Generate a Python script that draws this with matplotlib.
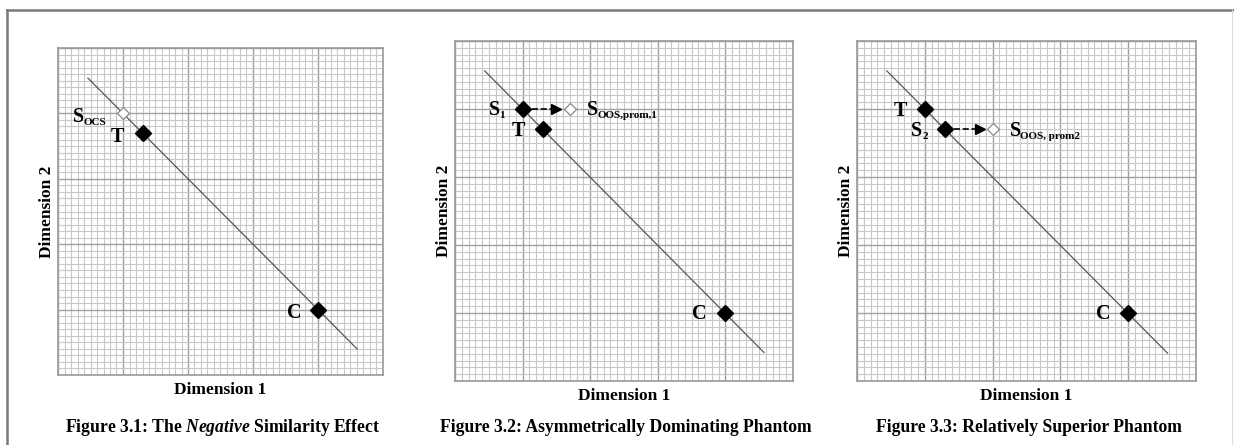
import numpy as np
import matplotlib.pyplot as plt
from matplotlib.lines import Line2D

plt.rcParams['font.family'] = ['Liberation Serif', 'DejaVu Serif']
plt.rcParams['mathtext.fontset'] = 'custom'
plt.rcParams['mathtext.rm'] = 'Liberation Serif:bold'
plt.rcParams['mathtext.it'] = 'Liberation Serif:italic:bold'

W, H = 1234, 445

# --- data (grid units, 0..5 on both axes) ---
line1_x = [0.46, 4.60]
line1_y = [4.54, 0.40]
filled1_x = [1.3, 4.0]
filled1_y = [3.7, 1.0]
hollow1_x = [1.0]
hollow1_y = [4.0]
labels1 = [('T', 0.92, 3.64), ('C', 3.63, 0.95)]
sublabels1 = [('S', 'OCS', 0.23, 3.95)]

line2_x = [0.44, 4.57]
line2_y = [4.56, 0.42]
filled2_x = [1.0, 1.3, 4.0]
filled2_y = [4.0, 3.7, 1.0]
hollow2_x = [1.7]
hollow2_y = [4.0]
arrow2 = (1.0, 1.5, 4.0)
labels2 = [('T', 0.94, 3.68), ('C', 3.62, 0.99)]
sublabels2 = [('S', '1', 0.50, 3.98), ('S', 'OOS,prom,1', 1.95, 3.98)]

line3_x = [0.44, 4.58]
line3_y = [4.56, 0.41]
filled3_x = [1.0, 1.3, 4.0]
filled3_y = [4.0, 3.7, 1.0]
hollow3_x = [2.0]
hollow3_y = [3.7]
arrow3 = (1.3, 1.82, 3.7)
labels3 = [('T', 0.64, 3.97), ('C', 3.63, 0.99)]
sublabels3 = [('S', '2', 0.80, 3.68), ('S', 'OOS, prom2', 2.25, 3.68)]

captions = ['Figure 3.1: The $\\mathit{Negative}$ Similarity Effect',
            'Figure 3.2: Asymmetrically Dominating Phantom',
            'Figure 3.3: Relatively Superior Phantom']

# axes boxes in pixels: left, top, right, bottom
boxes = [(58, 48, 383, 375), (455, 41, 793, 381), (857, 41, 1196, 381)]

fig = plt.figure(figsize=(W / 100, H / 100), dpi=100)


def fx(x):
    return x / W


def fy(y):
    return 1 - y / H


# outer frame
fig.add_artist(Line2D([fx(7), fx(1234)], [fy(10), fy(10)], color='#7a7a7a', lw=1.8))
fig.add_artist(Line2D([fx(7), fx(7)], [fy(10), fy(445)], color='#7a7a7a', lw=1.8))
fig.add_artist(Line2D([fx(1232), fx(1232)], [fy(10), fy(445)], color='#dddddd', lw=0.8))


def make_ax(box):
    l, t, r, b = box
    ax = fig.add_axes([fx(l), fy(b), (r - l) / W, (b - t) / H])
    ax.set_xlim(0, 5)
    ax.set_ylim(0, 5)
    ax.set_xticks(np.arange(0, 6))
    ax.set_yticks(np.arange(0, 6))
    ax.set_xticks(np.arange(0, 5.01, 0.1), minor=True)
    ax.set_yticks(np.arange(0, 5.01, 0.1), minor=True)
    ax.grid(which='minor', color='#c8c8c8', lw=0.8)
    ax.grid(which='major', color='#a0a0a0', lw=1.0)
    ax.tick_params(which='both', length=0, labelbottom=False, labelleft=False)
    ax.set_axisbelow(True)
    for s in ax.spines.values():
        s.set_color('#9a9a9a')
        s.set_linewidth(1.2)
    return ax


def draw(ax, lx, ly, fxs, fys, hx, hy, labels, sublabels):
    ax.plot(lx, ly, color='#555555', lw=0.9)
    ax.plot(hx, hy, 'D', ms=6.5, mfc='white', mec='#888888', mew=0.9)
    ax.plot(fxs, fys, 'D', ms=8.5, color='black')
    for txt, x, y in labels:
        ax.text(x, y, txt, fontsize=14.5, fontweight='bold', ha='center', va='center')
    for main, sub, x, y in sublabels:
        ax.text(x, y, main, fontsize=14.5, fontweight='bold', ha='left', va='center')
        ax.annotate(sub, xy=(x, y), xytext=(7.8, -4), textcoords='offset points',
                    fontsize=8, fontweight='bold', ha='left', va='center')


ax1 = make_ax(boxes[0])
draw(ax1, line1_x, line1_y, filled1_x, filled1_y, hollow1_x, hollow1_y, labels1, sublabels1)

ax2 = make_ax(boxes[1])
draw(ax2, line2_x, line2_y, filled2_x, filled2_y, hollow2_x, hollow2_y, labels2, sublabels2)
ax2.plot(arrow2[:2], [arrow2[2]] * 2, '--', color='black', lw=1.2)
ax2.plot(arrow2[1], arrow2[2], '>', color='black', ms=7)

ax3 = make_ax(boxes[2])
draw(ax3, line3_x, line3_y, filled3_x, filled3_y, hollow3_x, hollow3_y, labels3, sublabels3)
ax3.plot(arrow3[:2], [arrow3[2]] * 2, '--', color='black', lw=1.2)
ax3.plot(arrow3[1], arrow3[2], '>', color='black', ms=7)

for box, cap in zip(boxes, captions):
    l, t, r, b = box
    cx = (l + r) / 2
    fig.text(fx(cx), fy(b + 15), 'Dimension 1', fontsize=12.5, fontweight='bold',
             ha='center', va='center')
    fig.text(fx(l - 11), fy((t + b) / 2), 'Dimension 2', fontsize=12.5, fontweight='bold',
             ha='center', va='center', rotation=90)
    fig.text(fx(cx + 2), fy(427), cap, fontsize=12.7, fontweight='bold',
             ha='center', va='center')

fig.savefig('out.png', dpi=100, facecolor='white')
